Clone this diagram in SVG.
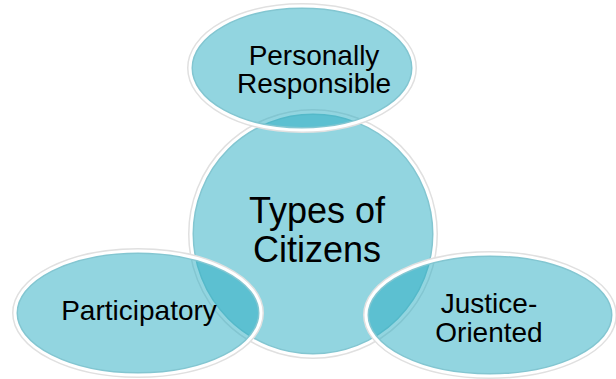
<svg xmlns="http://www.w3.org/2000/svg" width="616" height="379" viewBox="0 0 616 379">
<style>
.sh{fill:none;stroke:#e0e0e0;stroke-width:6}
.bd{fill:#25abc1;fill-opacity:0.5;stroke:#fff;stroke-width:3}
text{font-family:"Liberation Sans",Arial,sans-serif;fill:#000;text-anchor:middle}
</style>
<rect width="616" height="379" fill="#fff"/>
<g id="center">
<circle class="sh" cx="313" cy="234" r="122"/>
<circle class="bd" cx="313" cy="234" r="122"/>
<text font-size="36"><tspan x="317" y="223">Types of</tspan><tspan x="317" y="262">Citizens</tspan></text>
</g>
<g id="personally">
<ellipse class="sh" cx="302" cy="68" rx="112" ry="62"/>
<ellipse class="bd" cx="302" cy="68" rx="112" ry="62"/>
<text font-size="28"><tspan x="314" y="65">Personally</tspan><tspan x="314" y="93">Responsible</tspan></text>
</g>
<g id="participatory">
<ellipse class="sh" cx="138" cy="313" rx="123" ry="62"/>
<ellipse class="bd" cx="138" cy="313" rx="123" ry="62"/>
<text font-size="28" x="139" y="320">Participatory</text>
</g>
<g id="justice">
<ellipse class="sh" cx="490" cy="315" rx="124" ry="61"/>
<ellipse class="bd" cx="490" cy="315" rx="124" ry="61"/>
<text font-size="28"><tspan x="489" y="313">Justice-</tspan><tspan x="489" y="342">Oriented</tspan></text>
</g>
<g id="connectors"/>
</svg>
